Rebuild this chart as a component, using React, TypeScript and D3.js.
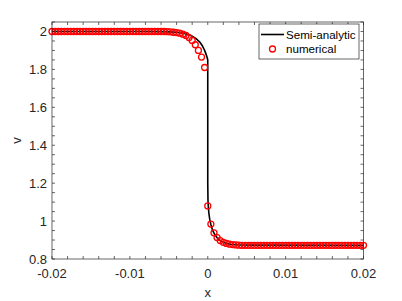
import React from "react";
import * as d3 from "d3";

const numX = [
  -0.02, -0.0196, -0.0192, -0.0188, -0.0184, -0.018, -0.0176, -0.0172, -0.0168, -0.0164,
  -0.016, -0.0156, -0.0152, -0.0148, -0.0144, -0.014, -0.0136, -0.0132, -0.0128, -0.0124,
  -0.012, -0.0116, -0.0112, -0.0108, -0.0104, -0.01, -0.0096, -0.0092, -0.0088, -0.0084,
  -0.008, -0.0076, -0.0072, -0.0068, -0.0064, -0.006, -0.0056, -0.0052, -0.0048, -0.0044,
  -0.004, -0.0036, -0.0032, -0.0028, -0.0024, -0.002, -0.0016, -0.0012, -0.0008, -0.0004,
  0,
  0.0004, 0.0008, 0.0012, 0.0016, 0.002, 0.0024, 0.0028, 0.0032, 0.0036, 0.004,
  0.0044, 0.0048, 0.0052, 0.0056, 0.006, 0.0064, 0.0068, 0.0072, 0.0076, 0.008,
  0.0084, 0.0088, 0.0092, 0.0096, 0.01, 0.0104, 0.0108, 0.0112, 0.0116, 0.012,
  0.0124, 0.0128, 0.0132, 0.0136, 0.014, 0.0144, 0.0148, 0.0152, 0.0156, 0.016,
  0.0164, 0.0168, 0.0172, 0.0176, 0.018, 0.0184, 0.0188, 0.0192, 0.0196, 0.02,
];

const numV = [
  2, 2, 2, 2, 2, 2, 2, 2, 2, 2,
  2, 2, 2, 2, 2, 2, 2, 2, 2, 2,
  2, 2, 2, 2, 2, 2, 2, 2, 2, 2,
  2, 2, 2, 2, 2, 2, 2, 1.999, 1.998, 1.996,
  1.994, 1.991, 1.986, 1.979, 1.968, 1.953, 1.93, 1.9, 1.865, 1.81,
  1.08,
  0.984, 0.938, 0.913, 0.897, 0.888, 0.882, 0.878, 0.876, 0.874, 0.873,
  0.872, 0.872, 0.872, 0.872, 0.872, 0.872, 0.872, 0.872, 0.872, 0.872,
  0.872, 0.872, 0.872, 0.872, 0.872, 0.872, 0.872, 0.872, 0.872, 0.872,
  0.872, 0.872, 0.872, 0.872, 0.872, 0.872, 0.872, 0.872, 0.872, 0.872,
  0.872, 0.872, 0.872, 0.872, 0.872, 0.872, 0.872, 0.872, 0.872, 0.872,
];

const semiX = [
  -0.02, -0.008, -0.006, -0.005, -0.004, -0.003, -0.0025, -0.002, -0.0015, -0.001,
  -0.0007, -0.0004, -0.0002, -0.0001, 0, 0, 0.00003, 0.00008, 0.00015, 0.00025,
  0.0004, 0.0006, 0.0008, 0.0012, 0.0016, 0.002, 0.0025, 0.003, 0.004, 0.006, 0.02,
];
const semiV = [
  2, 2, 1.999, 1.998, 1.996, 1.99, 1.984, 1.975, 1.962, 1.943,
  1.925, 1.9, 1.878, 1.865, 1.85, 1.2, 1.11, 1.07, 1.04, 1.01,
  0.982, 0.955, 0.936, 0.912, 0.897, 0.888, 0.881, 0.877, 0.874, 0.873, 0.872,
];

const xTicks = [-0.02, -0.01, 0, 0.01, 0.02];
const xTickLabels = ["-0.02", "-0.01", "0", "0.01", "0.02"];
const yTicks = [0.8, 1, 1.2, 1.4, 1.6, 1.8, 2];
const yTickLabels = ["0.8", "1", "1.2", "1.4", "1.6", "1.8", "2"];
const xMinor = d3.range(-0.02, 0.02001, 0.002);
const yMinor = d3.range(0.8, 2.0501, 0.05);
const legendLabels = ["Semi-analytic", "numerical"];

export default function App() {
  const W = 402, H = 301;
  const L = 52, R = 363.5, T = 22, B = 259;
  const x = d3.scaleLinear().domain([-0.02, 0.02]).range([L, R]);
  const y = d3.scaleLinear().domain([0.8, 2.05]).range([B, T]);
  const axisColor = "#262626";
  const font = "'Liberation Sans', Arial, Helvetica, sans-serif";
  const line = d3.line<number>().x((_, i) => x(semiX[i])).y((d) => y(d));
  const tl = 3;

  return (
    <svg width={W} height={H} style={{ position: "absolute", left: 0, top: 0, background: "#fff" }}>
      <rect x={0} y={0} width={W} height={H} fill="#fff" />
      <rect x={L} y={T} width={R - L} height={B - T} fill="#fff" />
      <path d={line(semiV) || ""} fill="none" stroke="#000" strokeWidth={1.6} />
      {numV.map((v, i) => (
        <circle key={i} cx={x(numX[i])} cy={y(v)} r={3} fill="none" stroke="#ff0000" strokeWidth={1.3} />
      ))}
      <g stroke={axisColor} strokeWidth={0.7} fill="none">
        <rect x={L} y={T} width={R - L} height={B - T} />
        {xMinor.map((t, i) => (
          <g key={"xm" + i}>
            <line x1={x(t)} x2={x(t)} y1={B} y2={B - tl} />
            <line x1={x(t)} x2={x(t)} y1={T} y2={T + tl} />
          </g>
        ))}
        {yMinor.map((t, i) => (
          <g key={"ym" + i}>
            <line x1={L} x2={L + tl} y1={y(t)} y2={y(t)} />
            <line x1={R} x2={R - tl} y1={y(t)} y2={y(t)} />
          </g>
        ))}
      </g>
      <g fill={axisColor} fontFamily={font} fontSize={13}>
        {xTicks.map((t, i) => (
          <text key={"xt" + i} x={x(t)} y={278} textAnchor="middle">{xTickLabels[i]}</text>
        ))}
        {yTicks.map((t, i) => (
          <text key={"yt" + i} x={47} y={y(t)} dy="0.35em" textAnchor="end">{yTickLabels[i]}</text>
        ))}
        <text x={(L + R) / 2} y={297} textAnchor="middle">x</text>
        <text transform={`translate(21,${(T + B) / 2}) rotate(-90)`} textAnchor="middle">v</text>
      </g>
      <g>
        <rect x={259} y={24} width={100} height={35} fill="#fff" stroke={axisColor} strokeWidth={0.7} />
        <line x1={261} x2={284} y1={34.5} y2={34.5} stroke="#000" strokeWidth={1.6} />
        <circle cx={272.5} cy={49} r={3} fill="none" stroke="#ff0000" strokeWidth={1.3} />
        <g fontFamily={font} fontSize={11.6} fill="#000">
          <text x={286} y={34.5} dy="0.35em">{legendLabels[0]}</text>
          <text x={286} y={49} dy="0.35em">{legendLabels[1]}</text>
        </g>
      </g>
    </svg>
  );
}
